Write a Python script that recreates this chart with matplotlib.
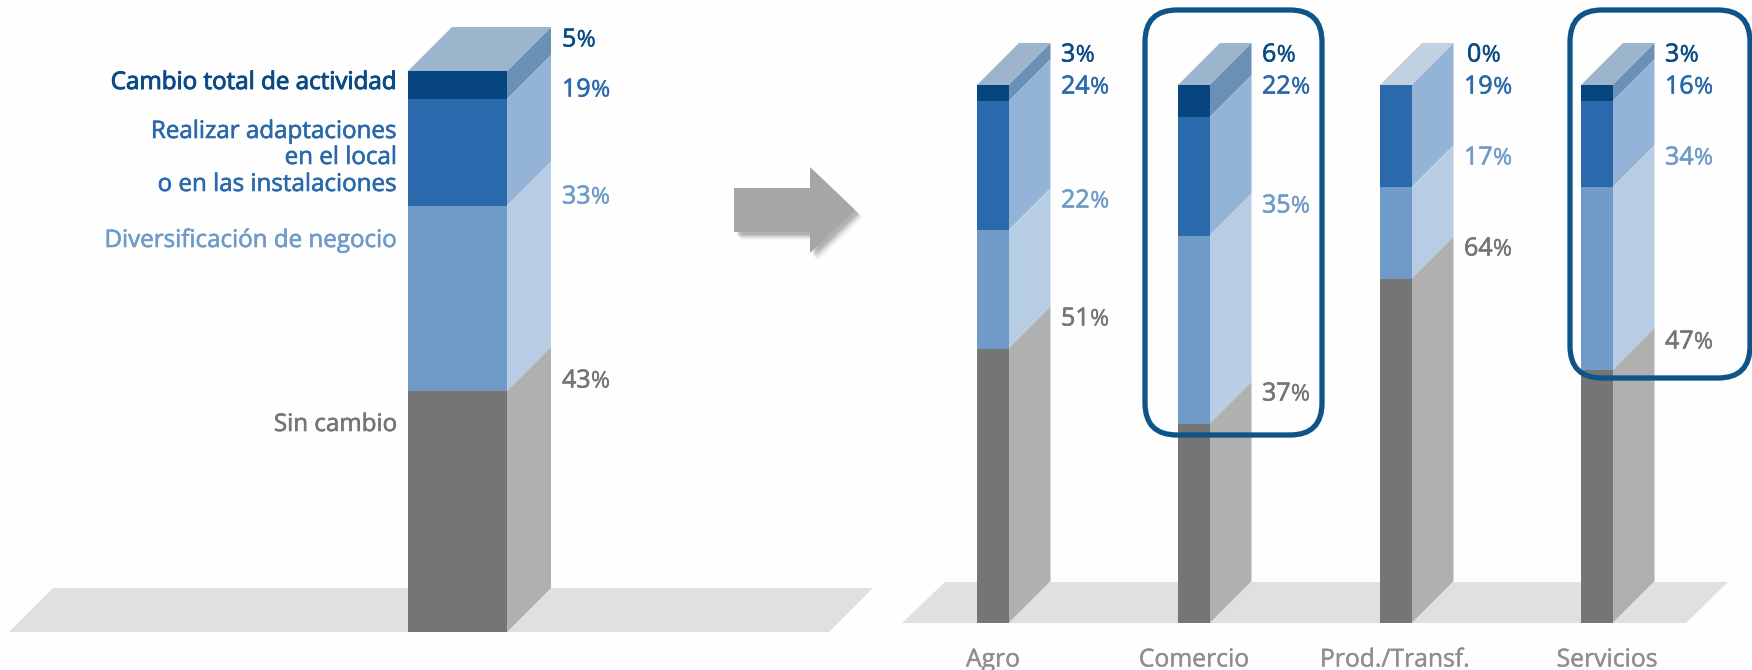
# stacked pseudo-3D columns: change of activity, total and by sector

import matplotlib
matplotlib.use('Agg')
import matplotlib.pyplot as plt
import matplotlib.patheffects as pe
from matplotlib.patches import Polygon, FancyBboxPatch

plt.rcParams['font.family'] = ['Open Sans', 'DejaVu Sans']

# series run from the top of the column down
series_names = ['Cambio total de actividad', 'Realizar adaptaciones', 'Diversificación de negocio', 'Sin cambio']
total_values = [5, 19, 33, 43]
agro_values = [3, 24, 22, 51]
comercio_values = [6, 22, 35, 37]
prod_values = [0, 19, 17, 64]
servicios_values = [3, 16, 34, 47]
sector_names = ['Agro', 'Comercio', 'Prod./Transf.', 'Servicios']

front_colors = ['#07457f', '#2a69ab', '#709bc8', '#757575']
side_colors = ['#6a90b5', '#94b4d7', '#b7cde4', '#b0b0b0']
text_colors = ['#0a4a85', '#2a69ab', '#6f9bc9', '#757575']
top_color = '#9cb5cc'
top_color_empty = '#c2d1e1'
floor_color = '#e0e0e0'
box_color = '#0f5488'

W, H = 1752, 670


def panel(fig, base_y, top_y):
    # x runs in figure pixels, y in percent of the column
    per = (base_y - top_y) / 100
    ax = fig.add_axes([0, 0, 1, 1])
    ax.set_xlim(0, W)
    ax.set_ylim((base_y - H) / per, base_y / per)
    ax.axis('off')
    return ax, per


def column(ax, per, x0, width, depth, values, empty_top=False):
    d = depth / per
    x1 = x0 + width
    ytop = 100
    for i, v in enumerate(values):
        ybot = ytop - v
        ax.bar(x0, v, width=width, bottom=ybot, align='edge', color=front_colors[i], linewidth=0, zorder=3)
        ax.add_patch(Polygon([(x1, ybot), (x1 + depth, ybot + d), (x1 + depth, ytop + d), (x1, ytop)],
                             closed=True, fc=side_colors[i], ec='none', zorder=2))
        ytop = ybot
    c = top_color_empty if empty_top else top_color
    ax.add_patch(Polygon([(x0, 100), (x1, 100), (x1 + depth, 100 + d), (x0 + depth, 100 + d)],
                         closed=True, fc=c, ec='none', zorder=2))


def heavy(color, w=0.45):
    # thickens the regular weight a little
    return [pe.withStroke(linewidth=w, foreground=color)]


def pct_label(tx, x, y, value, color, size=18):
    # number and a slightly smaller percent sign
    t = tx.text(x, y, str(value), color=color, fontsize=size, va='center', ha='left', zorder=6,
                path_effects=heavy(color))
    r = fig.canvas.get_renderer()
    bb = t.get_window_extent(r)
    tx.text(bb.x1 + 0.5, y + 0.5, '%', color=color, fontsize=size - 1.5, va='center', ha='left', zorder=6,
            path_effects=heavy(color, 0.25))


fig = plt.figure(figsize=(W / 100, H / 100), dpi=100, facecolor='#fefefe')

# left column, all firms
ax1, per1 = panel(fig, 632, 71)
d1 = 44 / per1
ax1.add_patch(Polygon([(9, 0), (829, 0), (873, d1), (53, d1)], closed=True, fc=floor_color, ec='none', zorder=1))
column(ax1, per1, 408, 99, 44, total_values)

# right columns, one per sector
ax2, per2 = panel(fig, 623, 85)
d2 = 41 / per2
ax2.add_patch(Polygon([(902, 0), (1686, 0), (1728, d2), (945, d2)], closed=True, fc=floor_color, ec='none', zorder=1))
sector_values = [agro_values, comercio_values, prod_values, servicios_values]
sector_x = [977, 1178, 1380, 1581]
for x0, vals in zip(sector_x, sector_values):
    column(ax2, per2, x0, 31.5, 42, vals, empty_top=vals[0] == 0)

# text and annotation layer, in pixels from the top left
tx = fig.add_axes([0, 0, 1, 1])
tx.set_xlim(0, W)
tx.set_ylim(H, 0)
tx.axis('off')
tx.patch.set_alpha(0)

fig.canvas.draw()

left_names = [(83, series_names[0], 0), (132, 'Realizar adaptaciones', 1), (158, 'en el local', 1),
              (185, 'o en las instalaciones', 1), (241, series_names[2], 2), (425, series_names[3], 3)]
for y, s, i in left_names:
    w = 0.7 if i == 0 else 0.45
    tx.text(397, y, s, color=text_colors[i], fontsize=17.4, ha='right', va='center', zorder=6,
            path_effects=heavy(text_colors[i], w))

for y, v, c in zip([40, 90, 197, 381], total_values, text_colors):
    pct_label(tx, 562, y, v, c)

# y of the labels beside each sector column
sector_label_y = [[55, 87, 201, 319], [55, 87, 206, 394], [55, 87, 158, 249], [55, 87, 158, 342]]
sector_label_x = [[1061] * 4, [1262] * 4, [1467, 1464, 1464, 1464], [1665] * 4]
for vals, xs, ys in zip(sector_values, sector_label_x, sector_label_y):
    for x, y, v, c in zip(xs, ys, vals, text_colors):
        pct_label(tx, x, y, v, c)

for cx, name in zip([993, 1194, 1395, 1607], sector_names):
    tx.text(cx, 660, name, color='#8f8f8f', fontsize=17.8, ha='center', va='center', zorder=6,
            path_effects=heavy('#8f8f8f', 0.3))

# highlight boxes
for bx, by, bw, bh in [(1145, 10, 177, 425), (1570, 10, 180, 368)]:
    tx.add_patch(FancyBboxPatch((bx, by), bw, bh, boxstyle='round,pad=0,rounding_size=32', fc='none',
                                ec=box_color, lw=3.8, zorder=5))

# arrow with a soft shadow
arrow_xy = [(734, 188), (810, 188), (810, 167), (855, 210), (810, 253), (810, 232), (734, 232)]
for off, a in [(8, 0.04), (7, 0.06), (6, 0.08), (5, 0.1), (4, 0.12), (3, 0.14)]:
    tx.add_patch(Polygon([(x + off, y + off) for x, y in arrow_xy], closed=True, fc='#555555', ec='none', alpha=a, zorder=3))
tx.add_patch(Polygon(arrow_xy, closed=True, fc='#a6a6a6', ec='none', zorder=4))

fig.savefig('out.png', dpi=100, facecolor=fig.get_facecolor())
